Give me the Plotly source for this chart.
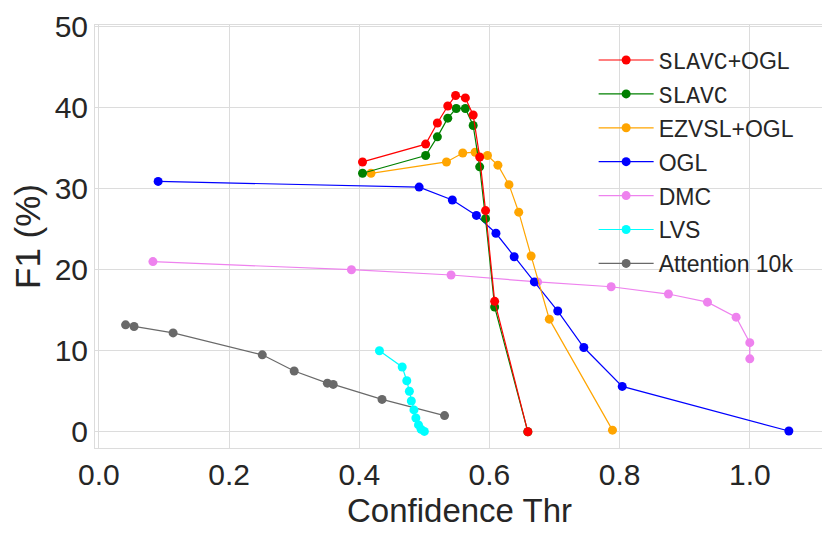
import plotly.graph_objects as go

# data (confidence threshold vs F1 %)
slavc_ogl_x = [0.405, 0.502, 0.520, 0.536, 0.548, 0.563, 0.575, 0.585, 0.594, 0.608, 0.659]
slavc_ogl_y = [33.3, 35.5, 38.1, 40.2, 41.5, 41.2, 39.1, 33.9, 27.3, 16.1, 0.0]

slavc_x = [0.405, 0.502, 0.520, 0.536, 0.549, 0.563, 0.575, 0.585, 0.594, 0.608, 0.659]
slavc_y = [31.9, 34.1, 36.4, 38.7, 39.9, 39.9, 37.8, 32.7, 26.3, 15.4, 0.0]

ezvsl_ogl_x = [0.418, 0.534, 0.559, 0.578, 0.597, 0.613, 0.630, 0.645, 0.664, 0.692, 0.789]
ezvsl_ogl_y = [31.9, 33.3, 34.4, 34.5, 34.1, 32.9, 30.5, 27.1, 21.7, 13.9, 0.2]

ogl_x = [0.091, 0.492, 0.543, 0.580, 0.610, 0.638, 0.669, 0.705, 0.745, 0.804, 1.060]
ogl_y = [30.9, 30.2, 28.6, 26.7, 24.5, 21.6, 18.5, 14.9, 10.4, 5.6, 0.1]

dmc_x = [0.083, 0.388, 0.541, 0.674, 0.787, 0.875, 0.935, 0.979, 1.0, 1.0]
dmc_y = [21.0, 20.0, 19.35, 18.5, 17.9, 17.0, 16.0, 14.15, 11.0, 9.0]

lvs_x = [0.431, 0.466, 0.473, 0.477, 0.480, 0.484, 0.487, 0.491, 0.495, 0.500]
lvs_y = [10.0, 8.0, 6.3, 5.0, 3.8, 2.7, 1.7, 0.85, 0.3, 0.05]

att_x = [0.041, 0.054, 0.114, 0.251, 0.300, 0.351, 0.360, 0.435, 0.531]
att_y = [13.2, 13.0, 12.2, 9.5, 7.5, 6.0, 5.85, 4.0, 2.0]

x_ticks = [0.0, 0.2, 0.4, 0.6, 0.8, 1.0]
y_ticks = [0, 10, 20, 30, 40, 50]

mono = "<span style='font-family:Liberation Mono'>SLAVC</span>"
series = [
    (mono + "+OGL", slavc_ogl_x, slavc_ogl_y, "red"),
    (mono, slavc_x, slavc_y, "green"),
    ("EZVSL+OGL", ezvsl_ogl_x, ezvsl_ogl_y, "orange"),
    ("OGL", ogl_x, ogl_y, "blue"),
    ("DMC", dmc_x, dmc_y, "violet"),
    ("LVS", lvs_x, lvs_y, "cyan"),
    ("Attention 10k", att_x, att_y, "dimgray"),
]

fig = go.Figure()
# draw in reverse so SLAVC+OGL sits on top, legend order kept via legendrank
for rank, (name, xs, ys, col) in reversed(list(enumerate(series))):
    fig.add_trace(go.Scatter(
        x=xs, y=ys, mode="lines+markers", name=name,
        line=dict(color=col, width=1.2),
        marker=dict(color=col, size=9),
        legendrank=rank + 1, legendgroup=str(rank),
    ))

axis_common = dict(
    showgrid=True, gridcolor="#dcdcdc", gridwidth=1, automargin=False,
    zeroline=False, showline=True, linecolor="#dcdcdc", linewidth=1, mirror=True,
    ticks="", tickfont=dict(size=30, color="#262626"), ticklabeloverflow="allow",
)

fig.update_xaxes(range=[-0.006, 1.114], tickvals=x_ticks, tickformat=".1f",
                 **axis_common)
fig.update_yaxes(range=[-2.0, 50.2], tickvals=y_ticks,
                 title=dict(text="F1 (%)", font=dict(size=35, color="#262626"), standoff=4),
                 **axis_common)

# x label as an annotation so it can sit closer to the tick labels
fig.add_annotation(text="Confidence Thr", xref="paper", yref="paper",
                   x=0.5, y=-0.148, xanchor="center", yanchor="middle",
                   showarrow=False, font=dict(size=33, color="#262626"))

# page body adds an 8px offset, so the figure is sized 822x527
fig.update_layout(
    width=822, height=527,
    margin=dict(l=87, r=6, t=17, b=87),
    paper_bgcolor="white", plot_bgcolor="white",
    font=dict(family="Liberation Sans, Arial, sans-serif", color="#262626"),
    legend=dict(x=0.684, y=0.968, xanchor="left", yanchor="top",
                bgcolor="rgba(0,0,0,0)", font=dict(size=23, color="#262626"),
                itemwidth=55, tracegroupgap=1),
    showlegend=True,
)

fig.write_html("out.html")
